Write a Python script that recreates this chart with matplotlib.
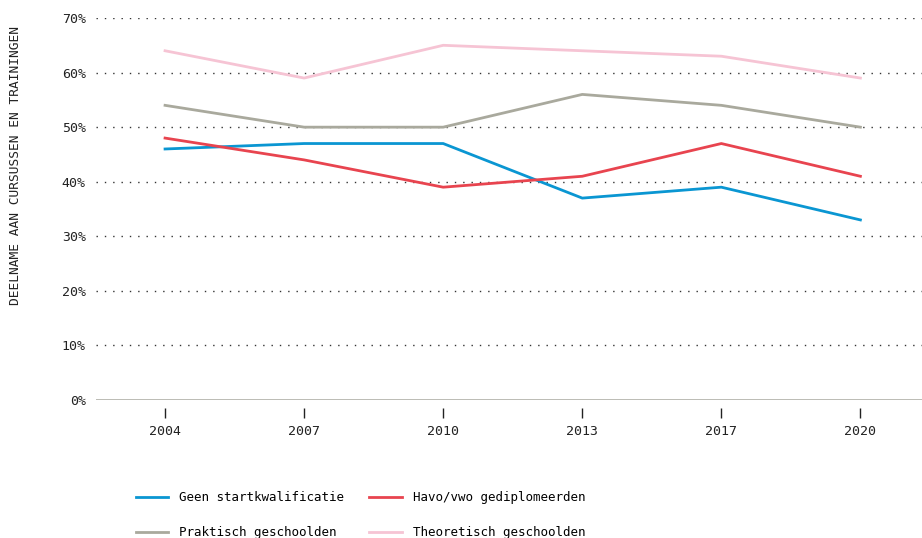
import numpy as np
import matplotlib
matplotlib.use("Agg")
import matplotlib.pyplot as plt
from matplotlib.lines import Line2D

plt.rcParams['font.family'] = ['DejaVu Sans Mono', 'DejaVu Sans']

years = ["2004", "2007", "2010", "2013", "2017", "2020"]
geen_start = [46, 47, 47, 37, 39, 33]
havo_vwo = [48, 44, 39, 41, 47, 41]
praktisch = [54, 50, 50, 56, 54, 50]
theoretisch = [64, 59, 65, 64, 63, 59]

series_names = ["Geen startkwalificatie", "Havo/vwo gediplomeerden",
                "Praktisch geschoolden", "Theoretisch geschoolden"]
colors = ["#0a96d2", "#e8444f", "#a9a99d", "#f6c4d4"]

fig = plt.figure(figsize=(9.22, 5.38), dpi=100)
ax = fig.add_axes([0.1036, 0.2565, 0.905, 0.71])

x = np.arange(len(years))
for vals, c in zip([geen_start, havo_vwo, praktisch, theoretisch], colors):
    ax.plot(x, vals, color=c, linewidth=2, zorder=3)

ax.set_xlim(-0.5, len(years) - 0.5)
ax.set_ylim(0, 70)

# dotted gridlines, solid baseline
for v in range(10, 71, 10):
    ax.axhline(v, color="#333333", linewidth=1, linestyle=(0, (1, 5)), zorder=1)
ax.axhline(0, color="#b0b0a8", linewidth=1.2, zorder=2)

for s in ax.spines.values():
    s.set_visible(False)
# ticks start a little below the baseline
ax.spines['bottom'].set_position(('outward', 6))

ax.set_yticks(range(0, 71, 10))
ax.set_yticklabels([f"{v}%" for v in range(0, 71, 10)], fontsize=9.5, color="#222222")
ax.tick_params(axis='y', length=0, pad=7)

ax.set_xticks(x)
ax.set_xticklabels(years, fontsize=9.5, color="#222222")
ax.tick_params(axis='x', length=7, width=1, color="#222222", pad=5, direction='out')

fig.text(0.017, 0.693, "DEELNAME AAN CURSUSSEN EN TRAININGEN", rotation=90,
         fontsize=9.3, color="#222222", ha='center', va='center')

order = [0, 2, 1, 3]
handles = [Line2D([0], [0], color=colors[i], linewidth=2) for i in order]
labels = [series_names[i] for i in order]
fig.legend(handles, labels, ncol=2, loc='upper left',
           bbox_to_anchor=(0.147, 0.087), frameon=False, fontsize=9,
           handlelength=2.6, handletextpad=0.9, columnspacing=2.0,
           labelspacing=1.75, borderaxespad=0, borderpad=0)

fig.savefig("out.png", dpi=100)
